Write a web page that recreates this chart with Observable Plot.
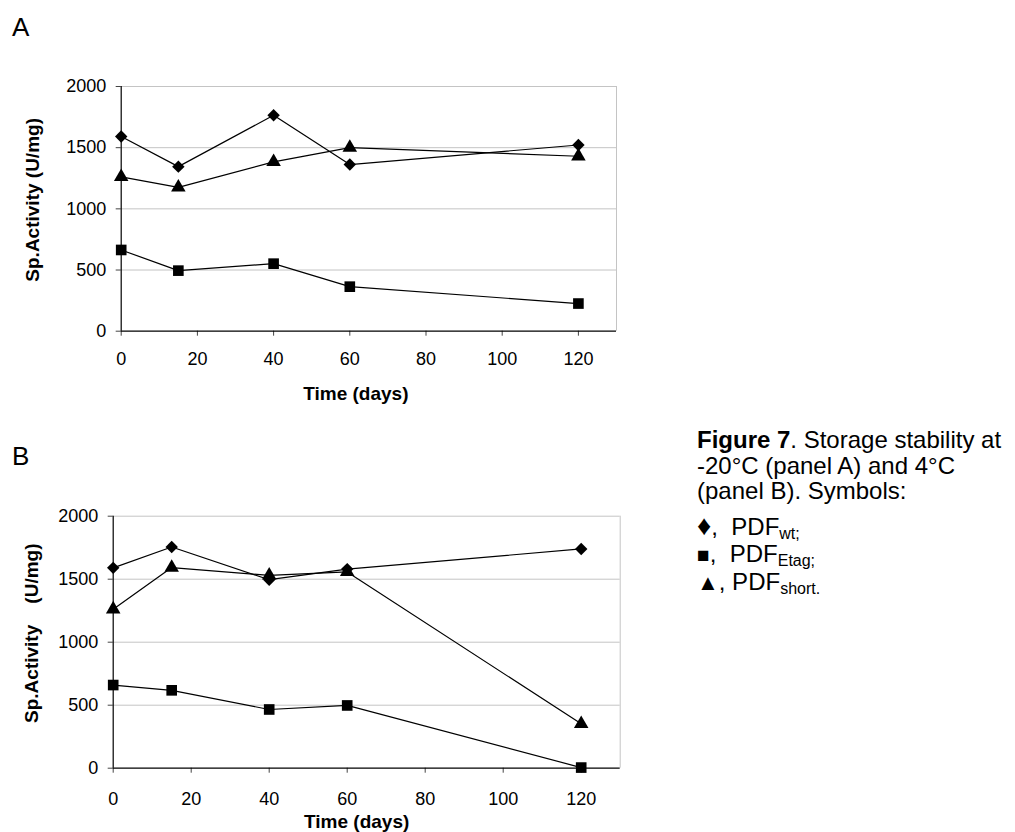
<!DOCTYPE html>
<html>
<head>
<meta charset="utf-8">
<script src="https://cdn.jsdelivr.net/npm/d3@7"></script>
<script src="https://cdn.jsdelivr.net/npm/@observablehq/plot@0.6"></script>
<style>
  html, body { margin: 0; padding: 0; background: #fff; }
  body { font-family: "Liberation Sans", Arial, sans-serif; color: #000; }
  #wrap { position: relative; width: 1015px; height: 832px; overflow: hidden; }
  .panel { position: absolute; left: 0; }
  .plabel { position: absolute; font-size: 26px; line-height: 30px; }
  #caption { position: absolute; left: 697px; top: 427px; font-size: 24px; line-height: 25.5px; white-space: nowrap; }
  #caption .leg { line-height: 27.5px; }
  #caption .leg1 { margin-top: 9px; }
  #caption sub { font-size: 16px; vertical-align: -4px; line-height: 0; }
  .sym { line-height: 0; }
</style>
</head>
<body>
<div id="wrap">
  <div class="plabel" style="left:12px;top:12px">A</div>
  <div id="panelA" class="panel" style="top:0px"></div>
  <div class="plabel" style="left:12px;top:441px">B</div>
  <div id="panelB" class="panel" style="top:420px"></div>
  <div id="caption">
    <div><b>Figure 7</b>. Storage stability at</div>
    <div>-20°C (panel A) and 4°C</div>
    <div>(panel B). Symbols:</div>
    <div class="leg leg1"><span class="sym" style="font-size:28px">♦</span>,&nbsp; PDF<sub>wt;</sub></div>
    <div class="leg"><span class="sym" style="font-size:21px">■</span>,&nbsp; PDF<sub>Etag;</sub></div>
    <div class="leg"><span class="sym" style="font-size:22px">▲</span>, PDF<sub>short.</sub></div>
  </div>
</div>
<script>
// ---- data ----
const days = [0, 15, 40, 60, 120];

// Panel A (-20 °C)
const A_wt    = [1592, 1345, 1765, 1362, 1522];
const A_etag  = [664, 495, 552, 364, 226];
const A_short = [1262, 1176, 1384, 1500, 1430];

// Panel B (4 °C)
const B_wt    = [1590, 1756, 1496, 1580, 1740];
const B_etag  = [660, 618, 466, 498, 5];
const B_short = [1262, 1592, 1530, 1558, 352];

const xTicks = [0, 20, 40, 60, 80, 100, 120];
const yTicks = [0, 500, 1000, 1500, 2000];
const gridLines = [500, 1000, 1500, 2000];
const seriesNames = ["PDFwt", "PDFEtag", "PDFshort"];

function rowsOf(wt, etag, sh) {
  const out = [];
  [wt, etag, sh].forEach((vals, i) => {
    vals.forEach((v, j) => out.push({series: seriesNames[i], day: days[j], act: v}));
  });
  return out;
}

function shiftGroup(sel, dx, dy) {
  sel.each(function() {
    const g = d3.select(this);
    const t = g.attr("transform") || "";
    g.attr("transform", `translate(${dx},${dy}) ${t}`.trim());
  });
}

function panel(wt, etag, sh, o) {
  const rows = rowsOf(wt, etag, sh);
  const s = name => rows.filter(d => d.series === name);
  const chart = Plot.plot({
    width: 640,
    height: o.height,
    marginLeft: o.ml, marginRight: o.mr, marginTop: o.mt, marginBottom: o.mb,
    style: {fontFamily: "'Liberation Sans', Arial, sans-serif", fontSize: "18px", color: "#000", background: "transparent", overflow: "visible"},
    x: {domain: [0, 130]},
    y: {domain: [0, 2000]},
    marks: [
      Plot.ruleY(gridLines, {stroke: "#c4c4c4", strokeWidth: 1}),
      Plot.ruleX([130], {stroke: "#c4c4c4", strokeWidth: 1}),
      Plot.axisX({ticks: xTicks, tickSize: 5, tickPadding: o.xpad, tickFormat: d => String(d), stroke: "#444",
        fontSize: 18, label: "Time (days)", labelArrow: "none", labelAnchor: "center", labelOffset: o.xlo}),
      Plot.axisY({ticks: yTicks, tickSize: 5, tickPadding: 10, tickFormat: d => String(d), stroke: "#444",
        fontSize: 18, label: o.ylabel, labelArrow: "none", labelAnchor: "center", labelOffset: o.ylo}),
      Plot.ruleX([0], {stroke: "#000", strokeWidth: 1.2}),
      Plot.ruleY([0], {stroke: "#000", strokeWidth: 1.2}),
      Plot.line(rows, {x: "day", y: "act", z: "series", stroke: "#000", strokeWidth: 1.2}),
      Plot.dot(s("PDFwt"), {x: "day", y: "act", symbol: "diamond2", r: 5.6, fill: "#000"}),
      Plot.dot(s("PDFEtag"), {x: "day", y: "act", symbol: "square", r: 6, fill: "#000"}),
      Plot.dot(s("PDFshort"), {x: "day", y: "act", symbol: "triangle", r: 5.4, fill: "#000"})
    ]
  });
  const root = d3.select(chart);
  root.selectAll('g[aria-label="x-axis label"] text, g[aria-label="y-axis label"] text')
    .attr("font-weight", "bold")
    .each(function() {
      const t = d3.select(this);
      t.text(t.text().replace(/[\u2190-\u2193]/g, "").trim());
    });
  root.selectAll('g[aria-label="x-axis label"] text').attr("font-size", o.xlfs);
  root.selectAll('g[aria-label="y-axis label"] text').attr("font-size", o.ylfs);
  shiftGroup(root.selectAll('g[aria-label="x-axis label"]'), o.xdx, 0);
  shiftGroup(root.selectAll('g[aria-label="y-axis label"]'), 0, o.ydy);
  return chart;
}

document.getElementById("panelA").append(panel(A_wt, A_etag, A_short, {
  height: 420, ml: 120.7, mr: 24, mt: 86, mb: 89.3, xpad: 16, xlo: 69, ylo: 96,
  ylabel: "Sp.Activity (U/mg)", xlfs: "19px", ylfs: "19px", xdx: -13, ydy: -9
}));
document.getElementById("panelB").append(panel(B_wt, B_etag, B_short, {
  height: 412, ml: 112.7, mr: 20.3, mt: 95.7, mb: 64.3, xpad: 19, xlo: 60, ylo: 89,
  ylabel: "Sp.Activity\u00a0\u00a0\u00a0 (U/mg)", xlfs: "19px", ylfs: "19px", xdx: -10, ydy: -9
}));
</script>
</body>
</html>
